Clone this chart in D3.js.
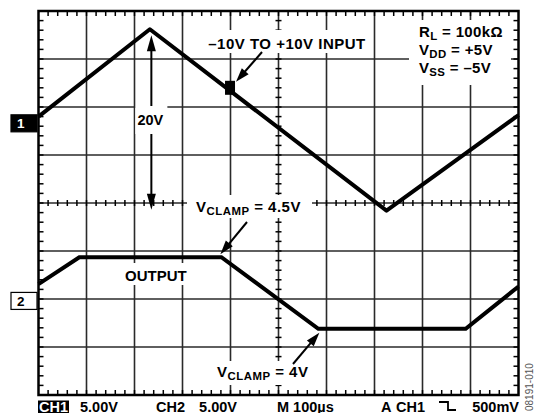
<!DOCTYPE html>
<html>
<head>
<meta charset="utf-8">
<script src="https://cdn.jsdelivr.net/npm/d3@7/dist/d3.min.js"></script>
<style>
    body { margin: 0; background: #fff; }
    svg { display: block; }
    text { font-family: "Liberation Sans", Arial, sans-serif; font-weight: bold; fill: #000; }
</style>
</head>
<body>
<div id="chart"></div>
<script>
// Scope settings
const timePerDiv = 100;   // us per division
const voltsPerDiv = 5;    // V per division, both channels
const xDivs = 10;
const yDivs = 8;

// CH1: -10V to +10V triangle input (time in us, volts)
const ch1Time = [0, 232, 725, 1000];
const ch1Volts = [0.7, 9.8, -9.1, 0.85];

// CH2: clamped output
const ch2Time = [0, 85, 381, 583, 890, 1000];
const ch2Volts = [1.75, 4.55, 4.55, -2.9, -2.9, 1.5];

// Ground markers, in divisions above screen centre
const channels = [
    { name: '1', groundDiv: 1.66, filled: true },
    { name: '2', groundDiv: -2.04, filled: false }
];

// Square cursor on the input trace
const inputMarker = { t: 399, v: 3.7 };

// Labels
const legendLines = [
    ['R', 'L', ' = 100k\u03A9'],
    ['V', 'DD', ' = +5V'],
    ['V', 'SS', ' = \u20135V']
];
const readout = ['5.00V', 'CH2', '5.00V', 'M 100\u00B5s', 'A', 'CH1', '500mV'];

const width = 536, height = 413;
const plot = { left: 38.5, top: 11, width: 480, height: 384 };

const svg = d3.select('#chart').append('svg')
    .attr('width', width)
    .attr('height', height);

const x = d3.scaleLinear()
    .domain([0, xDivs * timePerDiv])
    .range([plot.left, plot.left + plot.width]);

const yDiv = d3.scaleLinear()
    .domain([-yDivs / 2, yDivs / 2])
    .range([plot.top + plot.height, plot.top]);

const chY = (ch, v) => yDiv(ch.groundDiv + v / voltsPerDiv);

// Grid
const grid = svg.append('g').attr('class', 'grid');
d3.range(1, xDivs).forEach(i => {
    grid.append('line')
        .attr('x1', x(i * timePerDiv)).attr('x2', x(i * timePerDiv))
        .attr('y1', plot.top).attr('y2', plot.top + plot.height)
        .attr('stroke', '#2a2a2a').attr('stroke-width', 1.6);
});
d3.range(-yDivs / 2 + 1, yDivs / 2).forEach(j => {
    grid.append('line')
        .attr('x1', plot.left).attr('x2', plot.left + plot.width)
        .attr('y1', yDiv(j)).attr('y2', yDiv(j))
        .attr('stroke', '#2a2a2a').attr('stroke-width', 1.6);
});

// Minor ticks, 5 per division
const ticks = svg.append('g').attr('class', 'ticks')
    .attr('stroke', '#000').attr('stroke-width', 1.5);
const xMinor = d3.range(1, xDivs * 5).map(k => x(k * timePerDiv / 5));
const yMinor = d3.range(1, yDivs * 5).map(k => yDiv(-yDivs / 2 + k / 5));
const midX = x(xDivs * timePerDiv / 2), midY = yDiv(0);
const tickLen = 5, crossLen = 3;
xMinor.forEach(px => {
    ticks.append('line').attr('x1', px).attr('x2', px)
        .attr('y1', plot.top).attr('y2', plot.top + tickLen);
    ticks.append('line').attr('x1', px).attr('x2', px)
        .attr('y1', plot.top + plot.height).attr('y2', plot.top + plot.height - tickLen);
    ticks.append('line').attr('x1', px).attr('x2', px)
        .attr('y1', midY - crossLen).attr('y2', midY + crossLen);
});
yMinor.forEach(py => {
    ticks.append('line').attr('y1', py).attr('y2', py)
        .attr('x1', plot.left).attr('x2', plot.left + tickLen);
    ticks.append('line').attr('y1', py).attr('y2', py)
        .attr('x1', plot.left + plot.width).attr('x2', plot.left + plot.width - tickLen);
    ticks.append('line').attr('y1', py).attr('y2', py)
        .attr('x1', midX - crossLen).attr('x2', midX + crossLen);
});

// Frame
svg.append('rect')
    .attr('x', plot.left).attr('y', plot.top)
    .attr('width', plot.width).attr('height', plot.height)
    .attr('fill', 'none').attr('stroke', '#000').attr('stroke-width', 2.5);

// White boxes behind the annotation text
const boxes = [
    [205, 30, 165, 23],   // input label
    [409, 20, 102, 65],   // legend
    [187, 195, 125, 23],  // vclamp 4.5
    [121, 263, 70, 22],   // output
    [212, 361, 106, 24]   // vclamp 4
];
boxes.forEach(b => {
    svg.append('rect').attr('x', b[0]).attr('y', b[1])
        .attr('width', b[2]).attr('height', b[3]).attr('fill', '#fff');
});

// Traces
const traceLine = (ch) => d3.line()
    .x(d => x(d[0]))
    .y(d => chY(ch, d[1]));

svg.append('path')
    .datum(d3.zip(ch1Time, ch1Volts))
    .attr('d', traceLine(channels[0]))
    .attr('fill', 'none').attr('stroke', '#000')
    .attr('stroke-width', 4).attr('stroke-linejoin', 'round');

svg.append('path')
    .datum(d3.zip(ch2Time, ch2Volts))
    .attr('d', traceLine(channels[1]))
    .attr('fill', 'none').attr('stroke', '#000')
    .attr('stroke-width', 4).attr('stroke-linejoin', 'miter');

// Input cursor square
svg.append('rect')
    .attr('x', x(inputMarker.t) - 5).attr('y', chY(channels[0], inputMarker.v) - 7)
    .attr('width', 10).attr('height', 14).attr('fill', '#000');

// Channel ground markers
channels.forEach(ch => {
    const gy = yDiv(ch.groundDiv);
    svg.append('rect')
        .attr('x', 11).attr('y', gy - 8.5)
        .attr('width', 26).attr('height', 17)
        .attr('fill', ch.filled ? '#000' : '#fff')
        .attr('stroke', '#000').attr('stroke-width', 1.2);
    svg.append('text')
        .attr('x', 17).attr('y', gy + 5)
        .attr('font-size', 13.5)
        .style('fill', ch.filled ? '#fff' : '#000')
        .text(ch.name);
});

// Arrows
function arrowHead(x1, y1, x2, y2, len, half) {
    const a = Math.atan2(y2 - y1, x2 - x1);
    const bx = x2 - len * Math.cos(a), by = y2 - len * Math.sin(a);
    const px = -Math.sin(a) * half, py = Math.cos(a) * half;
    svg.append('path')
        .attr('d', `M${x2},${y2}L${bx + px},${by + py}L${bx - px},${by - py}Z`)
        .attr('fill', '#000');
}
function arrow(x1, y1, x2, y2) {
    const a = Math.atan2(y2 - y1, x2 - x1);
    svg.append('line')
        .attr('x1', x1).attr('y1', y1)
        .attr('x2', x2 - 8 * Math.cos(a)).attr('y2', y2 - 8 * Math.sin(a))
        .attr('stroke', '#000').attr('stroke-width', 2);
    arrowHead(x1, y1, x2, y2, 14, 4.5);
}

// 20V span arrow between peak and valley of the input
const spanX = x(ch1Time[1]) + 1.5;
const spanTop = chY(channels[0], ch1Volts[1]) + 6;
const spanBot = chY(channels[0], ch1Volts[2]) - 1;
svg.append('line')
    .attr('x1', spanX).attr('x2', spanX)
    .attr('y1', spanTop + 10).attr('y2', spanBot - 10)
    .attr('stroke', '#000').attr('stroke-width', 2);
arrowHead(spanX, spanBot - 20, spanX, spanTop, 16, 4.5);
arrowHead(spanX, spanTop + 20, spanX, spanBot, 16, 4.5);
svg.append('rect').attr('x', spanX - 16).attr('y', 106)
    .attr('width', 32).attr('height', 28).attr('fill', '#fff');

arrow(262, 52, x(inputMarker.t) + 6, chY(channels[0], inputMarker.v) - 6);
arrow(247, 222, x(ch2Time[2]) - 1, chY(channels[1], ch2Volts[2]) - 3);
arrow(293, 364, x(ch2Time[3]) + 1, chY(channels[1], ch2Volts[3]) + 4);

// Annotation text
const fs = 15;
const ls = 0.5;
svg.append('text').attr('x', spanX - 1).attr('y', 125)
    .attr('text-anchor', 'middle').attr('font-size', 14.5)
    .text('20V');

svg.append('text').attr('x', 287).attr('y', 49)
    .attr('text-anchor', 'middle').attr('font-size', fs)
    .attr('letter-spacing', ls)
    .text('\u201310V TO +10V INPUT');

function subText(xp, yp, parts, size, spacing) {
    const t = svg.append('text').attr('x', xp).attr('y', yp)
        .attr('font-size', size).attr('letter-spacing', spacing);
    t.append('tspan').text(parts[0]);
    t.append('tspan').attr('dy', 3).attr('font-size', size * 0.76).text(parts[1]);
    t.append('tspan').attr('dy', -3).text(parts[2]);
    return t;
}

legendLines.forEach((parts, i) => {
    subText(419, 37 + i * 17.8, parts, fs, 0.35);
});

subText(196, 212, ['V', 'CLAMP', ' = 4.5V'], fs, ls);
subText(217, 377, ['V', 'CLAMP', ' = 4V'], fs, ls);

svg.append('text').attr('x', 125).attr('y', 281)
    .attr('font-size', fs).text('OUTPUT');

// Bottom readout
const rfs = 14.5;
const ry = 411.5;
svg.append('rect').attr('x', 38).attr('y', 400.5).attr('width', 31).attr('height', 12.5).attr('fill', '#000');
svg.append('text').attr('x', 39).attr('y', ry).attr('font-size', rfs)
    .style('fill', '#fff').text('CH1');
svg.append('text').attr('x', 80).attr('y', ry).attr('font-size', rfs).text(readout[0]);
svg.append('text').attr('x', 156).attr('y', ry).attr('font-size', rfs).text(readout[1]);
svg.append('text').attr('x', 237).attr('y', ry).attr('font-size', rfs)
    .attr('text-anchor', 'end').text(readout[2]);
svg.append('text').attr('x', 277).attr('y', ry).attr('font-size', rfs).text(readout[3]);
svg.append('text').attr('x', 381).attr('y', ry).attr('font-size', rfs).text(readout[4]);
svg.append('text').attr('x', 396).attr('y', ry).attr('font-size', rfs).text(readout[5]);
svg.append('path')
    .attr('d', 'M439,402H448V410H456')
    .attr('fill', 'none').attr('stroke', '#000').attr('stroke-width', 1.8);
svg.append('text').attr('x', 519).attr('y', ry).attr('font-size', rfs)
    .attr('text-anchor', 'end').text(readout[6]);

// Figure id
svg.append('text')
    .attr('transform', 'translate(533,411) rotate(-90)')
    .attr('font-size', 10).style('font-weight', 'normal').style('fill', '#555')
    .text('08191-010');
</script>
</body>
</html>
